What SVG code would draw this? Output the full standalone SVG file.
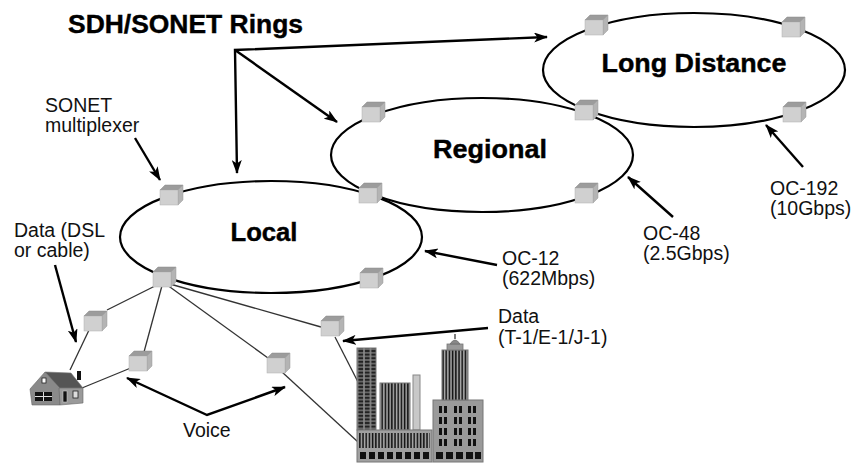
<svg xmlns="http://www.w3.org/2000/svg" xmlns:xlink="http://www.w3.org/1999/xlink" width="861" height="464" viewBox="0 0 861 464">
  <style>
    .ring { fill: none; stroke: #000; stroke-width: 2.2; }
    .arrow { fill: none; stroke: #000; stroke-width: 2.4; marker-end: url(#ah); }
    .link { fill: none; stroke: #333; stroke-width: 1.3; }
    .lbl { font-family: "Liberation Sans", Arial, sans-serif; font-size: 19.5px; fill: #111; }
    .ringname { font-family: "Liberation Sans", Arial, sans-serif; font-size: 25px; font-weight: bold; fill: #000; stroke: #000; stroke-width: 0.4; }
  </style>
  <defs>
    <marker id="ah" viewBox="0 0 14 10" refX="13" refY="5" markerWidth="14" markerHeight="10" markerUnits="userSpaceOnUse" orient="auto-start-reverse">
      <path d="M0,0 L14,5 L0,10 L3.5,5 z" fill="#000"/>
    </marker>
    <!-- SONET multiplexer: small shaded box -->
    <g id="mux">
      <polygon points="0,5 5,0 23,0 18,5" fill="#9c9c9c" stroke="#8a8a8a" stroke-width="0.5"/>
      <polygon points="18,5 23,0 23,15 18,20" fill="#b4b4b4" stroke="#9a9a9a" stroke-width="0.5"/>
      <rect x="0" y="5" width="18" height="15" fill="#d0d0d0" stroke="#b0b0b0" stroke-width="0.5"/>
    </g>
    <pattern id="towerWin" x="0" y="0" width="6.5" height="3.6" patternUnits="userSpaceOnUse">
      <rect width="6.5" height="3.6" fill="#8a8a8a"/>
      <rect x="0.8" y="0.6" width="4.9" height="2.4" fill="#222"/>
    </pattern>
    <pattern id="stripes" x="0" y="0" width="3.2" height="10" patternUnits="userSpaceOnUse">
      <rect width="3.2" height="10" fill="#aaa"/>
      <rect x="0.6" width="1.6" height="10" fill="#111"/>
    </pattern>
  </defs>

  <!-- title -->
  <text x="68" y="33" class="ringname" textLength="235" lengthAdjust="spacingAndGlyphs">SDH/SONET Rings</text>

  <!-- rings -->
  <g id="ring-long-distance">
    <ellipse cx="694" cy="70" rx="151" ry="57" class="ring"/>
    <text x="694" y="72" class="ringname" text-anchor="middle" textLength="185" lengthAdjust="spacingAndGlyphs">Long Distance</text>
  </g>
  <g id="ring-regional">
    <ellipse cx="482" cy="155" rx="151" ry="57" class="ring"/>
    <text x="490" y="158" class="ringname" text-anchor="middle" textLength="114" lengthAdjust="spacingAndGlyphs">Regional</text>
  </g>
  <g id="ring-local">
    <ellipse cx="271" cy="237" rx="151" ry="56" class="ring"/>
    <text x="264" y="241" class="ringname" text-anchor="middle" textLength="67" lengthAdjust="spacingAndGlyphs">Local</text>
  </g>

  <!-- connectors -->
  <g id="connectors">
    <!-- access links from the local hub -->
    <line x1="163" y1="282" x2="107" y2="310" class="link"/>
    <line x1="163" y1="282" x2="144" y2="352" class="link"/>
    <line x1="163" y1="282" x2="268" y2="358" class="link"/>
    <line x1="163" y1="282" x2="321" y2="327" class="link"/>
    <line x1="90" y1="328" x2="70" y2="370" class="link"/>
    <line x1="138" y1="365" x2="82" y2="388" class="link"/>
    <line x1="282" y1="372" x2="358" y2="442" class="link"/>
    <line x1="335" y1="337" x2="358" y2="382" class="link"/>

    <!-- callout arrows -->
    <polyline points="547,37 235,50 237,173" class="arrow" style="marker-start:url(#ah)"/>
    <line x1="235" y1="50" x2="337" y2="122" class="arrow"/>
    <line x1="135" y1="138" x2="160" y2="180" class="arrow"/>
    <line x1="55" y1="265" x2="76" y2="342" class="arrow"/>
    <line x1="497" y1="265" x2="425" y2="251" class="arrow"/>
    <line x1="673" y1="217" x2="628" y2="177" class="arrow"/>
    <line x1="803" y1="167" x2="766" y2="125" class="arrow"/>
    <line x1="488" y1="328" x2="343" y2="341" class="arrow"/>
    <polyline points="127,378 207,415 285,387" class="arrow" style="marker-start:url(#ah)"/>
  </g>

  <!-- multiplexers -->
  <g id="mux-ld-1"><use xlink:href="#mux" x="585" y="15"/></g>
  <g id="mux-ld-2"><use xlink:href="#mux" x="782" y="17"/></g>
  <g id="mux-ld-reg"><use xlink:href="#mux" x="575" y="100"/></g>
  <g id="mux-ld-3"><use xlink:href="#mux" x="783" y="102"/></g>
  <g id="mux-reg-1"><use xlink:href="#mux" x="362" y="102"/></g>
  <g id="mux-reg-2"><use xlink:href="#mux" x="575" y="183"/></g>
  <g id="mux-reg-local"><use xlink:href="#mux" x="359" y="183"/></g>
  <g id="mux-local-1"><use xlink:href="#mux" x="160" y="185"/></g>
  <g id="mux-local-hub"><use xlink:href="#mux" x="153" y="267"/></g>
  <g id="mux-local-2"><use xlink:href="#mux" x="360" y="268"/></g>
  <g id="mux-access-1"><use xlink:href="#mux" x="84" y="311"/></g>
  <g id="mux-access-2"><use xlink:href="#mux" x="129" y="351"/></g>
  <g id="mux-access-3"><use xlink:href="#mux" x="267" y="353"/></g>
  <g id="mux-access-4"><use xlink:href="#mux" x="321" y="316"/></g>

  <!-- house -->
  <g id="house">
    <polygon points="45,372 71,373 83,388 59,388" fill="#555" stroke="#777" stroke-width="0.6"/>
    <rect x="77" y="371" width="4" height="9" fill="#111"/>
    <polygon points="30,389 45,372 60,388 60,405 32,405" fill="#8a8a8a" stroke="#666" stroke-width="0.6"/>
    <polygon points="59,388 83,388 83,403 60,405" fill="#9a9a9a" stroke="#666" stroke-width="0.6"/>
    <rect x="42" y="378" width="4" height="5" fill="#fff" stroke="#222" stroke-width="0.8"/>
    <rect x="35" y="392" width="17" height="9" fill="#111"/>
    <line x1="35" y1="396.5" x2="52" y2="396.5" stroke="#ddd" stroke-width="1"/>
    <line x1="43.5" y1="392" x2="43.5" y2="401" stroke="#ddd" stroke-width="1"/>
    <rect x="63" y="391" width="4" height="11" fill="#111" stroke="#ccc" stroke-width="0.6"/>
    <rect x="73" y="391" width="5" height="7" fill="#ddd" stroke="#222" stroke-width="0.8"/>
  </g>

  <!-- office buildings -->
  <g id="buildings">
    <rect x="357" y="348" width="19" height="82" fill="url(#towerWin)" stroke="#777" stroke-width="1"/>
    <rect x="380" y="383" width="30" height="47" fill="url(#stripes)" stroke="#777" stroke-width="1"/>
    <rect x="413" y="375" width="7" height="55" fill="#c8c8c8" stroke="#888" stroke-width="1"/>
    <rect x="357" y="430" width="75" height="32" fill="#a0a0a0" stroke="#777" stroke-width="1"/>
    <rect x="359" y="433" width="71" height="15" fill="url(#stripes)"/>
    <g fill="#111">
      <rect x="360" y="452" width="6" height="7"/><rect x="369" y="452" width="6" height="7"/>
      <rect x="378" y="452" width="6" height="7"/><rect x="387" y="452" width="6" height="7"/>
      <rect x="396" y="452" width="6" height="7"/><rect x="405" y="452" width="6" height="7"/>
      <rect x="414" y="452" width="6" height="7"/><rect x="423" y="452" width="6" height="7"/>
    </g>
    <rect x="433" y="400" width="50" height="62" fill="#9a9a9a" stroke="#777" stroke-width="1"/>
    <g fill="#111">
      <rect x="439" y="406" width="3" height="7"/><rect x="444" y="406" width="3" height="7"/>
      <rect x="454" y="406" width="3" height="7"/><rect x="459" y="406" width="3" height="7"/>
      <rect x="468" y="406" width="3" height="7"/><rect x="473" y="406" width="3" height="7"/>
      <rect x="439" y="417" width="3" height="7"/><rect x="444" y="417" width="3" height="7"/>
      <rect x="454" y="417" width="3" height="7"/><rect x="459" y="417" width="3" height="7"/>
      <rect x="468" y="417" width="3" height="7"/><rect x="473" y="417" width="3" height="7"/>
      <rect x="439" y="428" width="3" height="7"/><rect x="444" y="428" width="3" height="7"/>
      <rect x="454" y="428" width="3" height="7"/><rect x="459" y="428" width="3" height="7"/>
      <rect x="468" y="428" width="3" height="7"/><rect x="473" y="428" width="3" height="7"/>
      <rect x="439" y="439" width="3" height="7"/><rect x="444" y="439" width="3" height="7"/>
      <rect x="454" y="439" width="3" height="7"/><rect x="459" y="439" width="3" height="7"/>
      <rect x="468" y="439" width="3" height="7"/><rect x="473" y="439" width="3" height="7"/>
      <rect x="436" y="452" width="7" height="7"/><rect x="446" y="452" width="7" height="7"/>
      <rect x="456" y="452" width="7" height="7"/><rect x="466" y="452" width="7" height="7"/>
      <rect x="475" y="452" width="6" height="7"/>
    </g>
    <rect x="442" y="350" width="26" height="50" fill="url(#stripes)" stroke="#777" stroke-width="1"/>
    <rect x="447" y="344" width="16" height="6" fill="#999" stroke="#777" stroke-width="0.8"/>
    <path d="M450,344 Q455,336 460,344 z" fill="#888" stroke="#666" stroke-width="0.6"/>
    <line x1="455" y1="334" x2="455" y2="339" stroke="#555" stroke-width="1.5"/>
  </g>

  <!-- labels -->
  <text class="lbl"><tspan x="45" y="112">SONET</tspan><tspan x="45" y="132">multiplexer</tspan></text>
  <text class="lbl"><tspan x="14" y="237">Data (DSL</tspan><tspan x="14" y="257">or cable)</tspan></text>
  <text class="lbl"><tspan x="502" y="265">OC-12</tspan><tspan x="502" y="285">(622Mbps)</tspan></text>
  <text class="lbl"><tspan x="643" y="240">OC-48</tspan><tspan x="643" y="260">(2.5Gbps)</tspan></text>
  <text class="lbl"><tspan x="770" y="195">OC-192</tspan><tspan x="770" y="215">(10Gbps)</tspan></text>
  <text class="lbl"><tspan x="498" y="323">Data</tspan><tspan x="498" y="344">(T-1/E-1/J-1)</tspan></text>
  <text class="lbl" x="183" y="437">Voice</text>
</svg>
